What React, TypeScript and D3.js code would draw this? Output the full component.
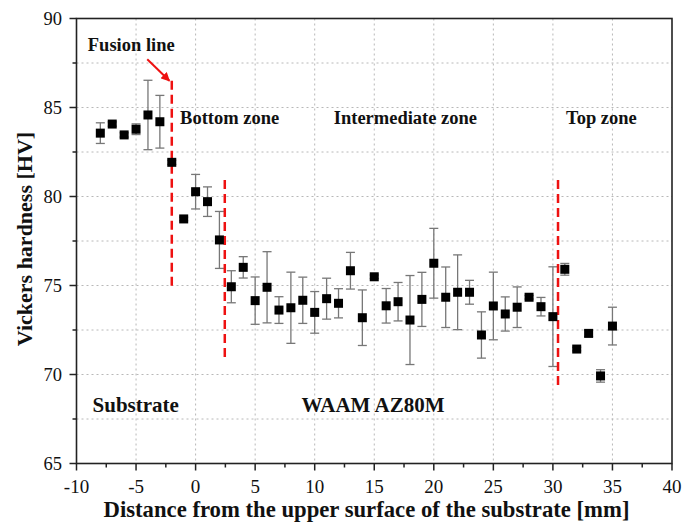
import React from "react";
import * as d3 from "d3";

const xs = [-8,-7,-6,-5,-4,-3,-2,-1,0,1,2,3,4,5,6,7,8,9,10,11,12,13,14,15,16,17,18,19,20,21,22,23,24,25,26,27,28,29,30,31,32,33,34,35];
const hv = [83.56,84.07,83.46,83.78,84.58,84.2,81.92,78.74,80.27,79.71,77.56,74.93,76.02,74.15,74.9,73.62,73.75,74.17,73.49,74.26,74.0,75.83,73.19,75.49,73.86,74.09,73.06,74.22,76.25,74.34,74.62,74.62,72.22,73.85,73.4,73.78,74.34,73.81,73.25,75.91,71.43,72.31,69.92,72.72];
const err = [0.58,0.12,0.12,0.3,1.95,1.48,0.12,0.1,0.97,0.83,1.6,0.9,0.6,1.33,2.0,0.75,2.0,1.3,1.17,1.15,0.82,1.03,1.56,0.1,0.97,1.08,2.5,1.52,1.96,1.7,2.1,0.67,1.3,1.9,0.96,1.14,0.1,0.52,2.8,0.33,0.1,0.18,0.35,1.06];

const xTicks = [-10,-5,0,5,10,15,20,25,30,35,40];
const yTicks = [65,70,75,80,85,90];

const zoneLines = [
  { x: -2, y0: 86.5, y1: 74.7 },
  { x: 2.45, y0: 80.93, y1: 70.9 },
  { x: 30.43, y0: 80.93, y1: 69.35 },
];

const topLabels = [
  { text: "Fusion line", x: -9.05, y: 88.2 },
  { text: "Bottom zone", x: -1.3, y: 84.05 },
  { text: "Intermediate zone", x: 11.6, y: 84.05 },
  { text: "Top zone", x: 31.1, y: 84.05 },
];
const bottomLabels = [
  { text: "Substrate", x: -8.65, y: 67.9 },
  { text: "WAAM AZ80M", x: 8.9, y: 67.9 },
];

const arrow = { x0: -4.06, y0: 87.71, x1: -2.2, y1: 86.5 };

const L = 76.5, R = 672, T = 18.5, B = 463.5;

export default function App() {
  const x = d3.scaleLinear().domain([-10, 40]).range([L, R]);
  const y = d3.scaleLinear().domain([65, 90]).range([B, T]);
  const serif = "'Liberation Serif', 'Times New Roman', serif";
  const gridY = d3.range(67.5, 90, 2.5);
  const gridX = d3.range(-5, 40, 5);
  const minorX = d3.range(-7.5, 40, 5);
  const minorY = d3.range(67.5, 90, 5);
  const sq = 9;
  const cap = 4.5;
  return (
    <svg width={684} height={526} style={{ position: "absolute", left: 0, top: 0, background: "#fff" }} fontFamily={serif}>
      <defs>
        <marker id="ah" viewBox="0 0 10 10" refX="9" refY="5" markerWidth="4.5" markerHeight="4.5" orient="auto">
          <path d="M0,0 L10,5 L0,10 z" fill="#ee1111" />
        </marker>
      </defs>
      {gridY.map((v) => (
        <line key={"gy" + v} x1={L} x2={R} y1={y(v)} y2={y(v)} stroke="#b8b8b8" strokeWidth={1} strokeDasharray="2,3" />
      ))}
      {gridX.map((v) => (
        <line key={"gx" + v} x1={x(v)} x2={x(v)} y1={T} y2={B} stroke="#b8b8b8" strokeWidth={1} strokeDasharray="2,3" />
      ))}
      <rect x={L} y={T} width={R - L} height={B - T} fill="none" stroke="#222" strokeWidth={1.6} />
      {xTicks.map((v) => (
        <g key={"xt" + v}>
          <line x1={x(v)} x2={x(v)} y1={B} y2={B + 7} stroke="#222" strokeWidth={1.5} />
          <text x={x(v)} y={B + 29.5} textAnchor="middle" fontSize={19} fill="#111">{v}</text>
        </g>
      ))}
      {minorX.map((v) => (
        <line key={"xm" + v} x1={x(v)} x2={x(v)} y1={B} y2={B + 4} stroke="#222" strokeWidth={1.5} />
      ))}
      {yTicks.map((v) => (
        <g key={"yt" + v}>
          <line x1={L - 7} x2={L} y1={y(v)} y2={y(v)} stroke="#222" strokeWidth={1.5} />
          <text x={L - 14.5} y={y(v) + 6.8} textAnchor="end" fontSize={18.5} fill="#111">{v}</text>
        </g>
      ))}
      {minorY.map((v) => (
        <line key={"ym" + v} x1={L - 4} x2={L} y1={y(v)} y2={y(v)} stroke="#222" strokeWidth={1.5} />
      ))}
      {xs.map((xv, i) => (
        <g key={"e" + i} stroke="#777" strokeWidth={1.3}>
          <line x1={x(xv)} x2={x(xv)} y1={y(hv[i] + err[i])} y2={y(hv[i] - err[i])} />
          <line x1={x(xv) - cap} x2={x(xv) + cap} y1={y(hv[i] + err[i])} y2={y(hv[i] + err[i])} />
          <line x1={x(xv) - cap} x2={x(xv) + cap} y1={y(hv[i] - err[i])} y2={y(hv[i] - err[i])} />
        </g>
      ))}
      {zoneLines.map((z, i) => (
        <line key={"z" + i} x1={x(z.x)} x2={x(z.x)} y1={y(z.y0)} y2={y(z.y1)} stroke="#ee1111" strokeWidth={2.5} strokeDasharray="9,5" />
      ))}
      {xs.map((xv, i) => (
        <rect key={"p" + i} x={x(xv) - sq / 2} y={y(hv[i]) - sq / 2} width={sq} height={sq} fill="#000" />
      ))}
      <line x1={x(arrow.x0)} y1={y(arrow.y0)} x2={x(arrow.x1)} y2={y(arrow.y1)} stroke="#ee1111" strokeWidth={2} markerEnd="url(#ah)" />
      {topLabels.map((a, i) => (
        <text key={"a" + i} x={x(a.x)} y={y(a.y)} fontSize={18.5} fontWeight="bold" fill="#111">{a.text}</text>
      ))}
      {bottomLabels.map((a, i) => (
        <text key={"b" + i} x={x(a.x)} y={y(a.y)} fontSize={21} fontWeight="bold" fill="#111">{a.text}</text>
      ))}
      <text x={366.5} y={517} textAnchor="middle" fontSize={22.7} fontWeight="bold" fill="#111">
        Distance from the upper surface of the substrate [mm]
      </text>
      <text transform={`translate(32,239) rotate(-90)`} textAnchor="middle" fontSize={22} fontWeight="bold" fill="#111">
        Vickers hardness [HV]
      </text>
    </svg>
  );
}
